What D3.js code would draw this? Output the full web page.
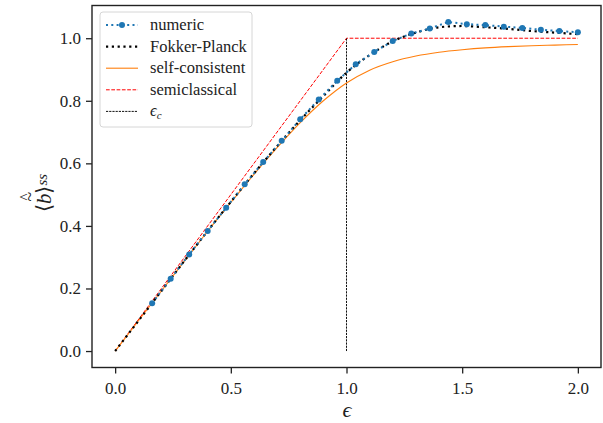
<!DOCTYPE html>
<html>
<head>
<meta charset="utf-8">
<script src="https://cdn.jsdelivr.net/npm/d3@7"></script>
<style>
  body { margin: 0; background: #fff; }
</style>
</head>
<body>
<svg width="603" height="423"></svg>
<script>
const SERIF = "'Liberation Serif'";
const svg = d3.select("svg").style("font-family", SERIF);

// Data
const numericX = [0.16, 0.24, 0.32, 0.40, 0.48, 0.56, 0.64, 0.72, 0.80, 0.88, 0.96, 1.04,
  1.12, 1.20, 1.28, 1.36, 1.44, 1.52, 1.60, 1.68, 1.76, 1.84, 1.92, 2.00];
const numericY = [0.153, 0.231, 0.309, 0.384, 0.458, 0.533, 0.604, 0.672, 0.741, 0.804, 0.864, 0.917,
  0.956, 0.991, 1.015, 1.031, 1.052, 1.045, 1.042, 1.037, 1.033, 1.027, 1.023, 1.019];

const curveX = [0, 0.1, 0.2, 0.3, 0.4, 0.5, 0.6, 0.7, 0.8, 0.9, 1.0,
  1.1, 1.2, 1.3, 1.4, 1.5, 1.6, 1.7, 1.8, 1.9, 2.0];
const fokkerY = [0, 0.096, 0.192, 0.289, 0.384, 0.477, 0.568, 0.655, 0.738, 0.815, 0.89,
  0.946, 0.99, 1.018, 1.035, 1.039, 1.035, 1.030, 1.023, 1.018, 1.013];
const selfY = [0, 0.096, 0.192, 0.288, 0.383, 0.475, 0.565, 0.650, 0.730, 0.800, 0.857,
  0.898, 0.925, 0.943, 0.955, 0.963, 0.969, 0.973, 0.976, 0.978, 0.980];

const semiX = [0, 1, 2];
const semiY = [0, 1, 1];
const epsC = 1;

const xTicks = [0.0, 0.5, 1.0, 1.5, 2.0];
const yTicks = [0.0, 0.2, 0.4, 0.6, 0.8, 1.0];

// Scales
const x = d3.scaleLinear().domain([-0.1, 2.1]).range([92, 601]);
const y = d3.scaleLinear().domain([-0.0526, 1.1046]).range([367.5, 5.5]);

const line = d3.line().x(d => x(d[0])).y(d => y(d[1]));
const smooth = d3.line().x(d => x(d[0])).y(d => y(d[1])).curve(d3.curveMonotoneX);

// Series
svg.append("path")
  .attr("d", line(semiX.map((v, i) => [v, semiY[i]])))
  .attr("fill", "none").attr("stroke", "#ff0000").attr("stroke-width", 1)
  .attr("stroke-dasharray", "3.7,1.6");

svg.append("path")
  .attr("d", line([[epsC, 0], [epsC, 1]]))
  .attr("fill", "none").attr("stroke", "#111").attr("stroke-width", 1)
  .attr("stroke-dasharray", "2.2,1");

svg.append("path")
  .attr("d", smooth(curveX.map((v, i) => [v, selfY[i]])))
  .attr("fill", "none").attr("stroke", "#ff7f0e").attr("stroke-width", 1.1);

svg.append("path")
  .attr("d", smooth(curveX.map((v, i) => [v, fokkerY[i]])))
  .attr("fill", "none").attr("stroke", "#000").attr("stroke-width", 2.2)
  .attr("stroke-dasharray", "2.2,3.6");

svg.append("path")
  .attr("d", line(numericX.map((v, i) => [v, numericY[i]])))
  .attr("fill", "none").attr("stroke", "#1f77b4").attr("stroke-width", 2)
  .attr("stroke-dasharray", "2,3.3");

svg.append("g")
  .selectAll("circle")
  .data(numericX)
  .join("circle")
  .attr("cx", d => x(d))
  .attr("cy", (d, i) => y(numericY[i]))
  .attr("r", 3)
  .attr("fill", "#1f77b4");

// Axes
const xAxis = svg.append("g")
  .attr("transform", "translate(0,367.5)")
  .call(d3.axisBottom(x).tickValues(xTicks).tickFormat(d3.format(".1f")).tickSizeOuter(0).tickSize(6).tickPadding(8));
const yAxis = svg.append("g")
  .attr("transform", "translate(92,0)")
  .call(d3.axisLeft(y).tickValues(yTicks).tickFormat(d3.format(".1f")).tickSizeOuter(0).tickSize(6).tickPadding(5));

[xAxis, yAxis].forEach(g => {
  g.attr("font-family", null);
  g.select(".domain").remove();
  g.selectAll(".tick line").attr("stroke", "#222").attr("stroke-width", 1.3);
  g.selectAll(".tick text").attr("font-size", 17)
    .style("font-family", SERIF).attr("fill", "#222");
});

svg.append("rect")
  .attr("x", 92).attr("y", 5.5).attr("width", 509).attr("height", 362)
  .attr("fill", "none").attr("stroke", "#222").attr("stroke-width", 1.4);

// Axis labels
svg.append("text")
  .attr("x", 347).attr("y", 417)
  .attr("text-anchor", "middle")
  .style("font-family", SERIF)
  .attr("font-size", 22).attr("font-style", "italic").attr("fill", "#222")
  .text("\u03f5");

const yl = svg.append("g").attr("transform", "translate(51,212) rotate(-90)")
  .style("font-family", SERIF).attr("fill", "#222");
const ylt = yl.append("text").attr("font-size", 21);
ylt.append("tspan").text("\u27e8");
ylt.append("tspan").attr("font-style", "italic").text("b");
ylt.append("tspan").text("\u27e9");
ylt.append("tspan").attr("font-style", "italic").attr("font-size", 15).attr("dy", -4).text("ss");
yl.append("text").attr("x", 10.5).attr("y", -15).attr("font-size", 18).text("~");
yl.append("text").attr("x", 11.5).attr("y", -21).attr("font-size", 15).text("^");

// Legend
const legendItems = [
  { label: "numeric", color: "#1f77b4", width: 2, dash: "2,3.3", marker: true },
  { label: "Fokker-Planck", color: "#000", width: 2.2, dash: "2.2,3.6" },
  { label: "self-consistent", color: "#ff7f0e", width: 1.1, dash: null },
  { label: "semiclassical", color: "#ff0000", width: 1, dash: "3.7,1.6" },
  { label: "\u03f5", sub: "c", color: "#111", width: 1, dash: "2.2,1" }
];

svg.append("rect")
  .attr("x", 100).attr("y", 12).attr("width", 152).attr("height", 115)
  .attr("rx", 3).attr("fill", "#fff").attr("fill-opacity", 0.85)
  .attr("stroke", "#d6d6d6").attr("stroke-width", 1);

const leg = svg.append("g")
  .selectAll("g")
  .data(legendItems)
  .join("g")
  .attr("transform", (d, i) => `translate(0,${25 + i * 21.6})`);

leg.append("line")
  .attr("x1", 106).attr("x2", 138)
  .attr("stroke", d => d.color)
  .attr("stroke-width", d => d.width)
  .attr("stroke-dasharray", d => d.dash);

leg.filter(d => d.marker).append("circle")
  .attr("cx", 122).attr("r", 3).attr("fill", "#1f77b4");

const lt = leg.append("text")
  .attr("x", 150).attr("y", 5)
  .style("font-family", SERIF).attr("fill", "#222")
  .attr("font-size", 16.5);
lt.append("tspan")
  .attr("font-style", d => d.sub ? "italic" : null)
  .text(d => d.label);
lt.filter(d => d.sub).append("tspan")
  .attr("font-style", "italic").attr("font-size", 11).attr("dy", 3)
  .text(d => d.sub);
</script>
</body>
</html>
